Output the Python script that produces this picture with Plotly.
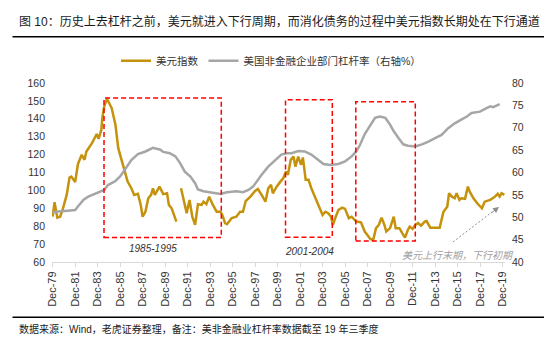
import plotly.graph_objects as go

# ---------------- data ----------------
dxy_dates = [
    "1979-12", "1980-02", "1980-05", "1980-08", "1980-11", "1981-03", "1981-06", "1981-08", "1981-12",
    "1982-03", "1982-07", "1982-10", "1982-12", "1983-06", "1983-11", "1984-01", "1984-04", "1984-05",
    "1984-07", "1984-10", "1985-03", "1985-07", "1985-10", "1986-03", "1986-08", "1986-12", "1987-03",
    "1987-07", "1987-10", "1987-12", "1988-03", "1988-06", "1988-09", "1988-11", "1989-01", "1989-06",
    "1989-10", "1990-02", "1990-04", "1990-07", "1990-12", "1991-02", "1991-05", "1991-08", "1991-11",
    "1992-02", "1992-05", "1992-08", "1992-11", "1993-03", "1993-05", "1993-08", "1993-11", "1994-03",
    "1994-07", "1994-11", "1995-01", "1995-04", "1995-06", "1995-11", "1996-04", "1996-08", "1996-11",
    "1997-02", "1997-07", "1997-12", "1998-03", "1998-07", "1998-11", "1999-02", "1999-05", "1999-07",
    "1999-11", "2000-03", "2000-06", "2000-09", "2000-11", "2001-02", "2001-05", "2001-07", "2001-10",
    "2002-01", "2002-03", "2002-06", "2002-09", "2002-12", "2003-03", "2003-07", "2003-09", "2003-12",
    "2004-03", "2004-06", "2004-09", "2004-11", "2005-02", "2005-05", "2005-09", "2005-12", "2006-04",
    "2006-07", "2006-12", "2007-05", "2007-09", "2008-03", "2008-06", "2008-09", "2008-12", "2009-03",
    "2009-06", "2009-08", "2009-12", "2010-04", "2010-06", "2010-10", "2011-01", "2011-04", "2011-07",
    "2011-09", "2011-12", "2012-03", "2012-06", "2012-09", "2013-01", "2013-03", "2013-07", "2013-12",
    "2014-05", "2014-09", "2015-01", "2015-03", "2015-06", "2015-09", "2015-11", "2016-02", "2016-04",
    "2016-08", "2016-11", "2017-01", "2017-05", "2017-09", "2017-12", "2018-02", "2018-05", "2018-11",
    "2019-04", "2019-07", "2019-09", "2019-11", "2020-02",
]
dxy_values = [
    85.3, 93.4, 84.8, 85.3, 90.0, 97.5, 107.2, 107.7, 104.6,
    114.7, 119.9, 117.1, 121.7, 126.4, 131.5, 128.8, 133.9, 140.4,
    146.9, 151.2, 146.0, 136.7, 123.6, 114.3, 104.9, 101.2, 97.5,
    98.1, 91.9, 85.3, 88.1, 95.6, 97.5, 101.2, 97.5, 102.1,
    97.9, 98.4, 91.9, 90.0, 82.6, None, 101.2, 94.7, 87.3,
    94.7, 85.3, 80.7, 92.3, 91.9, 93.7, 92.3, 96.5, 91.9,
    88.1, 88.1, 86.3, 81.7, 81.1, 84.5, 85.3, 88.1, 88.1,
    94.1, 96.5, 99.7, 100.8, 97.5, 93.7, 101.2, 103.1, 98.4,
    102.1, 104.9, 106.8, 110.5, 108.7, 117.1, 118.9, 113.3, 118.9,
    114.3, 118.4, 105.9, 105.9, 101.2, 97.5, 92.8, 90.0, 86.3,
    88.1, 87.3, 85.3, 80.7, 85.3, 89.1, 90.4, 89.7, 84.5,
    85.3, 82.6, 82.2, 77.0, 72.9, 72.3, 78.9, 80.7, 84.8,
    80.7, 77.0, 78.9, 85.3, 78.9, 78.9, 76.1, 73.6, 77.9,
    79.8, 78.5, 80.7, 81.7, 80.3, 82.6, 82.9, 79.2, 79.2,
    79.2, 88.1, 90.9, 98.4, 96.5, 95.6, 98.4, 94.7, 95.6,
    95.3, 102.1, 99.3, 95.6, 92.8, 90.9, 90.0, 93.7, 94.7,
    96.5, 98.1, 96.5, 98.4, 97.5,
]

lev_dates = [
    "1979-12", "1980-06", "1981-01", "1981-12", "1982-03", "1982-09", "1983-02", "1983-09", "1984-03",
    "1984-07", "1984-11", "1985-07", "1985-12", "1986-05", "1986-12", "1987-07", "1988-03", "1988-11",
    "1989-07", "1989-10", "1990-05", "1990-11", "1991-04", "1991-09", "1992-03", "1992-08", "1992-11",
    "1993-05", "1993-10", "1994-03", "1994-11", "1995-06", "1996-04", "1996-11", "1997-05", "1997-10",
    "1998-03", "1998-07", "1999-02", "1999-09", "2000-04", "2000-10", "2001-03", "2001-10", "2002-05",
    "2002-12", "2003-07", "2004-01", "2004-08", "2005-05", "2005-12", "2006-07", "2006-12", "2007-04",
    "2007-09", "2008-03", "2008-08", "2009-01", "2009-07", "2009-12", "2010-04", "2010-09", "2011-02",
    "2011-07", "2012-03", "2012-10", "2013-05", "2013-12", "2014-07", "2015-02", "2015-09", "2016-04",
    "2016-10", "2017-03", "2017-09", "2017-12", "2018-07", "2018-11", "2019-02", "2019-09",
]
lev_values = [
    51.0, 51.3, 51.4, 51.6, 52.4, 53.9, 54.6, 55.2, 55.6,
    56.1, 57.2, 58.1, 59.1, 60.6, 62.8, 64.1, 64.7, 65.5,
    65.1, 64.6, 64.3, 63.6, 62.1, 60.2, 59.1, 57.6, 56.2,
    55.8, 55.6, 55.5, 55.2, 55.6, 55.8, 55.6, 56.1, 56.9,
    58.4, 59.5, 61.3, 62.6, 64.0, 64.3, 64.3, 64.8, 64.7,
    64.0, 62.8, 61.9, 61.7, 61.9, 62.5, 63.6, 64.7, 66.2,
    68.6, 70.7, 72.2, 72.5, 72.2, 70.7, 69.2, 67.7, 66.3,
    66.0, 65.8, 66.3, 66.9, 67.7, 68.4, 69.9, 71.0, 71.8,
    72.5, 73.3, 73.6, 73.6, 74.4, 74.8, 74.6, 75.3,
]

tick_years = list(range(1979, 2020, 2))
tick_dates = [f"{y}-12-01" for y in tick_years]
tick_text = [f"Dec-{y % 100:02d}" for y in tick_years]

period_labels = ["1985-1995", "2001-2004"]
series_names = ["美元指数", "美国非金融企业部门杠杆率（右轴%）"]
title_text = "图 10：历史上去杠杆之前，美元就进入下行周期，而消化债务的过程中美元指数长期处在下行通道"
source_text = "数据来源：Wind，老虎证券整理，备注：美非金融业杠杆率数据截至 19 年三季度"
arrow_text = "美元上行末期，下行初期"

FONT = "Liberation Sans, Arial, Noto Sans CJK SC, sans-serif"
GOLD = "#C4920C"
GREY = "#A6A6A6"

fig = go.Figure()
fig.add_trace(go.Scatter(
    x=[d + "-01" for d in dxy_dates], y=dxy_values, mode="lines", name=series_names[0],
    line=dict(color=GOLD, width=2.5), connectgaps=False, yaxis="y",
))
fig.add_trace(go.Scatter(
    x=[d + "-01" for d in lev_dates], y=lev_values, mode="lines", name=series_names[1],
    line=dict(color=GREY, width=2.5), yaxis="y2",
))

L, R, T, B = 52, 53, 83, 83
W, H = 558, 345
pw, ph = W - L - R, H - T - B


def px(x):
    return (x - L) / pw


def py(y):
    return (H - B - y) / ph


shapes = []
# red dashed boxes
for (x0, x1, y0, y1) in [(104, 221.3, 98, 237.5), (285.5, 332.3, 99.7, 237.3), (355.8, 415.3, 101.7, 241)]:
    shapes.append(dict(type="rect", xref="paper", yref="paper",
                       x0=px(x0), x1=px(x1), y0=py(y1), y1=py(y0),
                       line=dict(color="#FF0000", width=1.5, dash="5px,3px")))
# dashed arrow line
shapes.append(dict(type="line", xref="paper", yref="paper",
                   x0=px(453), y0=py(242), x1=px(492), y1=py(212),
                   line=dict(color="#8C8C8C", width=1, dash="2px,2px")))
# title & footer rules
shapes.append(dict(type="line", xref="paper", yref="paper",
                   x0=px(12.5), x1=px(544), y0=py(36.7), y1=py(36.7),
                   line=dict(color="#000000", width=1.5)))
shapes.append(dict(type="line", xref="paper", yref="paper",
                   x0=px(12.5), x1=px(544), y0=py(317.3), y1=py(317.3),
                   line=dict(color="#000000", width=1.5)))

annotations = [
    dict(xref="paper", yref="paper", x=px(17), y=py(21.5), text=title_text, showarrow=False,
         xanchor="left", yanchor="middle", font=dict(family=FONT, size=12, color="#1a1a1a")),
    dict(xref="paper", yref="paper", x=px(17), y=py(329), text=source_text, showarrow=False,
         xanchor="left", yanchor="middle", font=dict(family=FONT, size=10, color="#1a1a1a")),
    dict(xref="paper", yref="paper", x=px(153), y=py(248.3), text="<i>" + period_labels[0] + "</i>",
         showarrow=False, xanchor="center", yanchor="middle", font=dict(family=FONT, size=10, color="#333333")),
    dict(xref="paper", yref="paper", x=px(309.6), y=py(251.7), text="<i>" + period_labels[1] + "</i>",
         showarrow=False, xanchor="center", yanchor="middle", font=dict(family=FONT, size=10, color="#333333")),
    dict(xref="paper", yref="paper", x=px(400), y=py(255), text="<i>" + arrow_text + "</i>",
         showarrow=False, xanchor="left", yanchor="middle", font=dict(family=FONT, size=10, color="#A0A0A0")),
    dict(xref="paper", yref="paper", x=px(499), y=py(207), ax=-9, ay=7, text="", showarrow=True,
         arrowhead=2, arrowsize=1.2, arrowwidth=1, arrowcolor="#8C8C8C"),
]

fig.update_layout(
    width=W, height=H,
    margin=dict(l=L, r=R, t=T, b=B, pad=0),
    paper_bgcolor="white", plot_bgcolor="white",
    font=dict(family=FONT, size=10, color="#333333"),
    showlegend=True,
    legend=dict(orientation="h", x=px(116), y=py(60.7), xanchor="left", yanchor="middle",
                font=dict(family=FONT, size=10.5, color="#333333"), bgcolor="rgba(0,0,0,0)",
                itemwidth=30, tracegroupgap=0),
    xaxis=dict(type="date", range=["1979-11-10", "2020-02-20"], tickvals=tick_dates, ticktext=tick_text,
               tickangle=-90, ticks="outside", ticklen=4, tickcolor="#D9D9D9",
               showline=True, linecolor="#D9D9D9", linewidth=1, showgrid=False, zeroline=False,
               tickfont=dict(family=FONT, size=11, color="#333333")),
    yaxis=dict(range=[60, 160], dtick=10, tick0=60, showgrid=False, zeroline=False, showline=False,
               ticks="", ticklabelstandoff=6, tickfont=dict(family=FONT, size=10.5, color="#333333")),
    yaxis2=dict(range=[40, 80], dtick=5, tick0=40, overlaying="y", side="right", showgrid=False,
                zeroline=False, showline=False, ticks="", ticklabelstandoff=6,
                tickfont=dict(family=FONT, size=10.5, color="#333333")),
    shapes=shapes,
    annotations=annotations,
)

fig.write_html("out.html")
